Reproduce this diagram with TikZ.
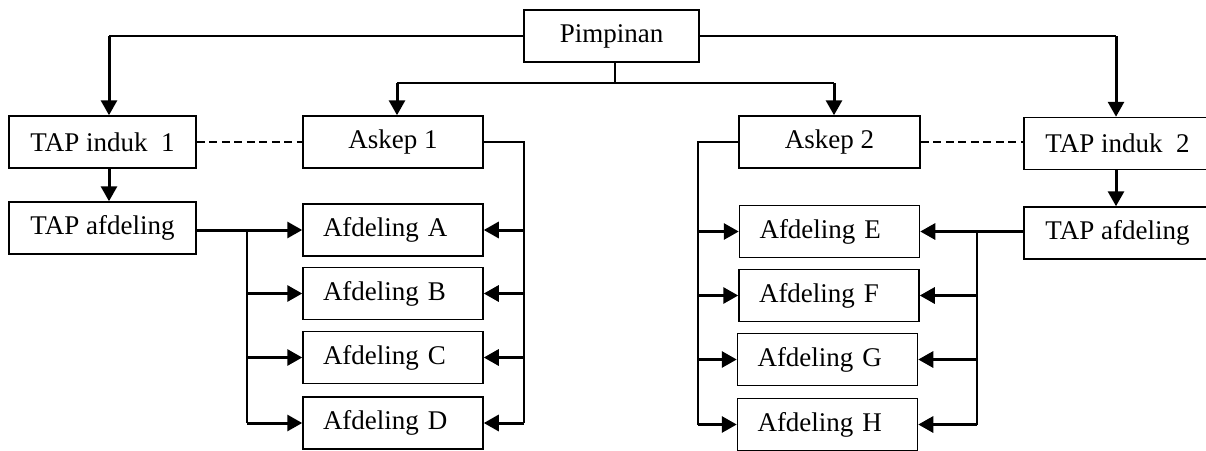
\documentclass[tikz,border=0pt]{standalone}
\usepackage{fontspec}
\setmainfont{Liberation Serif}
\usetikzlibrary{arrows.meta}

\begin{document}
\begin{tikzpicture}[x=1pt,y=-1pt,
    box/.style={draw,line width=1.5pt,minimum height=52pt,inner sep=0pt,
        font=\fontsize{27}{32}\selectfont},
    unit/.style={box,text width=140pt,inner xsep=20pt,align=left},
    thinline/.style={line width=1.5pt},
    arrowline/.style={line width=3pt,-{Triangle[length=15pt,width=16pt]}},
    dashline/.style={line width=2.5pt,dash pattern=on 8pt off 4.5pt}]
    \useasboundingbox (0,0) rectangle (1206,450);
    \clip (0,0) rectangle (1206,450);

    % kotak
    \node[box,minimum width=175pt] (pimpinan) at (611.5,36) {Pimpinan};
    \node[box,minimum width=187pt] (induk1) at (102.5,142) {TAP induk\ \ 1};
    \node[box,minimum width=180pt] (askep1) at (393,142) {Askep 1};
    \node[box,minimum width=181pt] (askep2) at (829.5,142) {Askep 2};
    \node[box,minimum width=187pt] (induk2) at (1117.5,143.5) {TAP induk\ \ 2};
    \node[box,minimum width=187pt] (tapafd1) at (102.5,228) {TAP afdeling};
    \node[box,minimum width=187pt] (tapafd2) at (1117.5,233) {TAP afdeling};

    \node[unit] (afdA) at (393,230) {Afdeling A};
    \node[unit] (afdB) at (393,293.5) {Afdeling B};
    \node[unit] (afdC) at (393,357.5) {Afdeling C};
    \node[unit] (afdD) at (393,423) {Afdeling D};
    \node[unit] (afdE) at (829.5,231.5) {Afdeling E};
    \node[unit] (afdF) at (829,295.5) {Afdeling F};
    \node[unit] (afdG) at (827.5,359.5) {Afdeling G};
    \node[unit] (afdH) at (827.5,424.5) {Afdeling H};

    % garis dari pimpinan
    \coordinate (t1) at (109,36);
    \coordinate (t2) at (1116,36);
    \coordinate (bagi) at (615,83);
    \coordinate (a1) at (397,83);
    \coordinate (a2) at (834,83);
    \draw[thinline] (pimpinan.west) -- (t1);
    \draw[thinline] (pimpinan.east) -- (t2);
    \draw[arrowline] (t1) -- (t1 |- induk1.north);
    \draw[arrowline] (t2) -- (t2 |- induk2.north);
    \draw[thinline] (pimpinan.south -| bagi) -- (bagi);
    \draw[thinline] (a1) -- (a2);
    \draw[arrowline] (a1) -- (a1 |- askep1.north);
    \draw[arrowline] (a2) -- (a2 |- askep2.north);

    \draw[dashline] (induk1.east) -- (askep1.west);
    \draw[dashline] (askep2.east) -- (askep2.east -| induk2.west);

    \draw[arrowline] (t1 |- induk1.south) -- (t1 |- tapafd1.north);
    \draw[arrowline] (t2 |- induk2.south) -- (t2 |- tapafd2.north);

    % afdeling kiri
    \coordinate (v1) at (247,0);
    \coordinate (v2) at (524,0);
    \draw[arrowline] (tapafd1.east |- afdA.west) -- (afdA.west);
    \draw[thinline] (v1 |- afdA) -- (v1 |- afdD);
    \foreach \n in {B,C,D}
        \draw[arrowline] (v1 |- afd\n) -- (afd\n.west);
    \draw[thinline] (askep1.east) -| (v2 |- afdD);
    \foreach \n in {A,B,C,D}
        \draw[arrowline] (v2 |- afd\n) -- (afd\n.east);

    % afdeling kanan
    \coordinate (v3) at (698,0);
    \coordinate (v4) at (977,0);
    \draw[thinline] (askep2.west) -| (v3 |- afdH);
    \foreach \n in {E,F,G,H}
        \draw[arrowline] (v3 |- afd\n) -- (afd\n.west);
    \draw[arrowline] (tapafd2.west |- afdE.east) -- (afdE.east);
    \draw[thinline] (v4 |- afdE) -- (v4 |- afdH);
    \foreach \n in {F,G,H}
        \draw[arrowline] (v4 |- afd\n) -- (afd\n.east);
\end{tikzpicture}
\end{document}
